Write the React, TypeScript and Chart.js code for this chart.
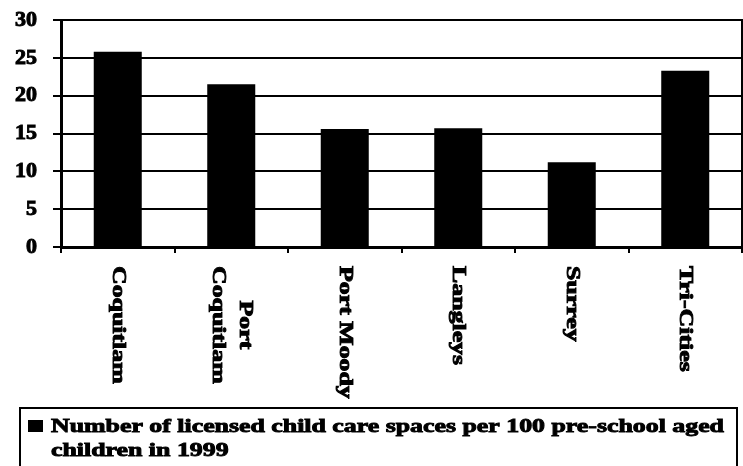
import React, { useEffect, useRef } from "react";
import { Chart, registerables } from "chart.js";

Chart.register(...registerables);

const categories: string[][] = [
  ["Coquitlam"],
  ["Port", "Coquitlam"],
  ["Port Moody"],
  ["Langleys"],
  ["Surrey"],
  ["Tri-Cities"],
];
const spacesPer100: number[] = [25.8, 21.5, 15.6, 15.7, 11.2, 23.3];
const yTicks: number[] = [0, 5, 10, 15, 20, 25, 30];
const legendLines: string[] = [
  "Number of licensed child care spaces per 100 pre-school aged",
  "children in 1999",
];

const FONT = '"Liberation Serif", "Times New Roman", serif';

function boldText(ctx: CanvasRenderingContext2D, t: string, x: number, y: number) {
  ctx.fillText(t, x, y);
  ctx.strokeText(t, x, y);
}

const decorPlugin = {
  id: "decor",
  afterDraw(chart: any) {
    const ctx = chart.ctx as CanvasRenderingContext2D;
    const area = chart.chartArea;
    const xScale = chart.scales.x;
    ctx.save();
    // right plot border
    ctx.strokeStyle = "#000";
    ctx.lineWidth = 2;
    ctx.beginPath();
    ctx.moveTo(area.right, area.top - 1);
    ctx.lineTo(area.right, area.bottom);
    ctx.stroke();

    // rotated category labels (clockwise)
    ctx.fillStyle = "#000";
    ctx.font = `bold 19px ${FONT}`;
    ctx.textBaseline = "middle";
    ctx.textAlign = "left";
    ctx.lineWidth = 0.9;
    const sx = 1.36;
    const lh = 27;
    categories.forEach((lines, i) => {
      const x = xScale.getPixelForValue(i);
      const y0 = area.bottom + 19;
      const widths = lines.map((l) => ctx.measureText(l).width);
      const maxW = Math.max(...widths);
      ctx.save();
      ctx.translate(x, y0);
      ctx.rotate(Math.PI / 2);
      ctx.scale(sx, 1);
      lines.forEach((l, j) => {
        const off = (j - (lines.length - 1) / 2) * lh;
        boldText(ctx, l, (maxW - widths[j]) / 2, off);
      });
      ctx.restore();
    });

    // legend box
    ctx.lineWidth = 2;
    ctx.strokeRect(20, 408, 717, 70);
    ctx.fillRect(28, 420, 15, 12);
    ctx.font = `bold 19px ${FONT}`;
    ctx.textBaseline = "alphabetic";
    ctx.lineWidth = 0.9;
    legendLines.forEach((l, j) => {
      ctx.save();
      ctx.translate(51, 432 + j * 24);
      ctx.scale(1.36, 1);
      boldText(ctx, l, 0, 0);
      ctx.restore();
    });
    ctx.restore();
  },
};

export default function App() {
  const ref = useRef<HTMLCanvasElement | null>(null);
  useEffect(() => {
    if (!ref.current) return;
    const chart = new Chart(ref.current, {
      type: "bar",
      data: {
        labels: categories.map((c) => c.join(" ")),
        datasets: [
          {
            label: legendLines.join(" "),
            data: spacesPer100,
            backgroundColor: "#000",
            borderWidth: 0,
            barPercentage: 0.423,
            categoryPercentage: 1,
          },
        ],
      },
      options: {
        animation: false,
        responsive: false,
        layout: { padding: { top: 20, right: 1, left: 0, bottom: 0 } },
        plugins: { legend: { display: false }, tooltip: { enabled: false } },
        scales: {
          x: {
            offset: true,
            grid: {
              display: true,
              offset: true,
              drawOnChartArea: false,
              drawTicks: true,
              tickLength: 6,
              color: "#000",
              lineWidth: 2,
            },
            border: { display: true, color: "#000", width: 3 },
            ticks: { display: false },
            afterFit: (s: any) => {
              s.height = 219;
              s.paddingLeft = 0;
              s.paddingRight = 0;
            },
          },
          y: {
            min: 0,
            max: 30,
            afterBuildTicks: (s: any) => {
              s.ticks = yTicks.map((v) => ({ value: v }));
            },
            grid: {
              color: "#000",
              lineWidth: 2,
              tickLength: 8,
              drawTicks: true,
            },
            border: { display: true, color: "#000", width: 3 },
            ticks: {
              color: "#000",
              padding: 16,
              textStrokeColor: "#000",
              textStrokeWidth: 1,
              font: { family: FONT, weight: "bold", size: 22 },
            },
            afterFit: (s: any) => {
              s.width = 61;
              s.paddingTop = 0;
              s.paddingBottom = 0;
            },
          },
        },
      },
      plugins: [decorPlugin],
    });
    return () => chart.destroy();
  }, []);
  return (
    <div style={{ position: "absolute", left: 0, top: 0, width: 743, height: 466, background: "#fff" }}>
      <canvas ref={ref} width={743} height={466} style={{ width: 743, height: 466 }} />
    </div>
  );
}
